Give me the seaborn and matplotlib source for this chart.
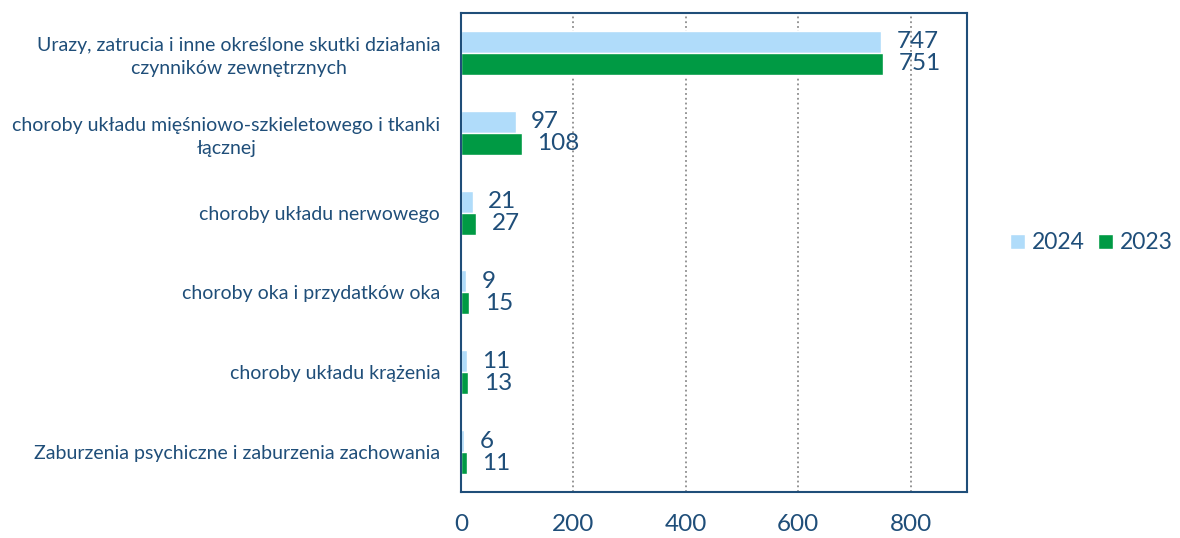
import pandas as pd
import matplotlib.pyplot as plt
import seaborn as sns
from matplotlib.ticker import FixedLocator

# Chart data
categories = [
    'Urazy, zatrucia i inne określone skutki działania\nczynników zewnętrznych',
    'choroby układu mięśniowo-szkieletowego i tkanki\nłącznej',
    'choroby układu nerwowego',
    'choroby oka i przydatków oka',
    'choroby układu krążenia',
    'Zaburzenia psychiczne i zaburzenia zachowania',
]
years = ['2024', '2023']
values_2024 = [747, 97, 21, 9, 11, 6]
values_2023 = [751, 108, 27, 15, 13, 11]
x_ticks = [0, 200, 400, 600, 800]

df = pd.DataFrame({
    'kategoria': categories * 2,
    'rok': [years[0]] * len(categories) + [years[1]] * len(categories),
    'wartosc': values_2024 + values_2023,
})

navy = '#1F4E79'
colors = {'2024': '#B0DCFA', '2023': '#009A44'}

sns.set_style('white')
plt.rcParams['font.family'] = ['Lato', 'DejaVu Sans']
plt.rcParams['text.color'] = navy

fig = plt.figure(figsize=(11.8, 5.38), dpi=100)
ax = fig.add_axes([0.3907, 0.0855, 0.4288, 0.8903])

sns.barplot(data=df, y='kategoria', x='wartosc', hue='rok', hue_order=years,
            order=categories, palette=colors, width=0.55, orient='h',
            saturation=1, ax=ax, legend=True)

# value labels
for container in ax.containers:
    ax.bar_label(container, padding=11, fontsize=17.5, color=navy)

ax.set_xlim(0, 900)
ax.set_ylim(len(categories) - 0.5, -0.5)
ax.set_xticks(x_ticks)
ax.set_xlabel('')
ax.set_ylabel('')
ax.tick_params(axis='x', labelsize=17.5, colors=navy, length=5, width=1.5,
               direction='out', pad=11)
ax.tick_params(axis='y', which='major', length=0, labelsize=14, labelcolor=navy,
               pad=15)
ax.yaxis.set_minor_locator(FixedLocator([i - 0.5 for i in range(len(categories) + 1)]))
ax.tick_params(axis='y', which='minor', length=5, width=1.5, color=navy,
               direction='out')
for lbl in ax.get_yticklabels():
    lbl.set_multialignment('center')
    lbl.set_linespacing(1.4)

ax.grid(axis='x', linestyle=':', color='#8C8C8C', linewidth=1.3)
ax.set_axisbelow(True)
for side in ['left', 'right', 'top', 'bottom']:
    ax.spines[side].set_visible(True)
    ax.spines[side].set_color(navy)
    ax.spines[side].set_linewidth(1.5)

ax.legend(loc='center left', bbox_to_anchor=(1.085, 0.52), ncol=2, frameon=False,
          fontsize=16.5, handlelength=0.65, handleheight=0.65, handletextpad=0.3,
          columnspacing=0.6, borderpad=0, borderaxespad=0, labelcolor=navy)

fig.savefig('out.png', dpi=100)
plt.close(fig)
